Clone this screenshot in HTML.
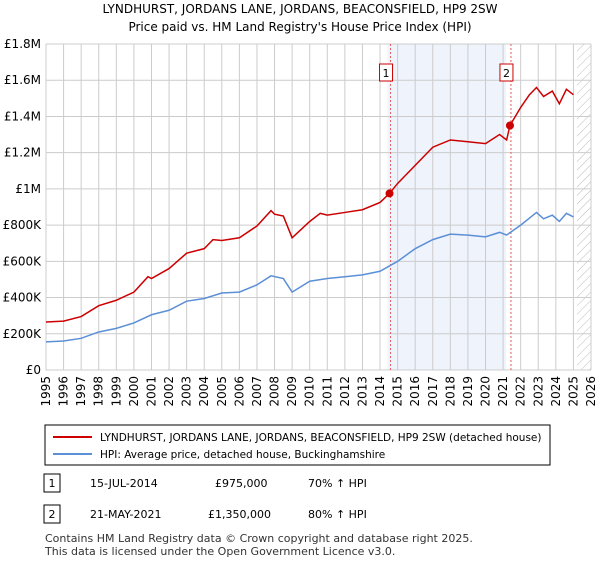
<!DOCTYPE html>
<html><head><meta charset="utf-8"><style>
body{margin:0;background:#fff;font-family:"Liberation Sans","DejaVu Sans",sans-serif;}
svg text{font-family:"DejaVu Sans","Liberation Sans",sans-serif;}
</style></head><body>
<svg id="c" width="600" height="560" xmlns="http://www.w3.org/2000/svg">
<defs><pattern id="hatch" width="6" height="6" patternUnits="userSpaceOnUse" patternTransform="rotate(45)"><line x1="0" y1="0" x2="0" y2="6" stroke="#bbb" stroke-width="1"/></pattern></defs>
<text x="300" y="13" text-anchor="middle" font-size="12">LYNDHURST, JORDANS LANE, JORDANS, BEACONSFIELD, HP9 2SW</text>
<text x="300" y="31" text-anchor="middle" font-size="12">Price paid vs. HM Land Registry's House Price Index (HPI)</text>
<g id="plot"></g>
<rect x="45" y="425" width="505" height="40" fill="#fff" stroke="#000"/>
<line x1="53" y1="437" x2="92" y2="437" stroke="#cc0000" stroke-width="2"/>
<text x="100" y="441" font-size="10.5">LYNDHURST, JORDANS LANE, JORDANS, BEACONSFIELD, HP9 2SW (detached house)</text>
<line x1="53" y1="454" x2="92" y2="454" stroke="#5b8fd6" stroke-width="2"/>
<text x="100" y="458" font-size="10.5">HPI: Average price, detached house, Buckinghamshire</text>
<rect x="44" y="474" width="16" height="18" fill="#fff" stroke="#000"/>
<text x="52" y="487" text-anchor="middle" font-size="11">1</text>
<text x="90" y="487" font-size="11">15-JUL-2014</text>
<text x="215" y="487" font-size="11">£975,000</text>
<text x="308" y="487" font-size="11">70% ↑ HPI</text>
<rect x="44" y="505" width="16" height="18" fill="#fff" stroke="#000"/>
<text x="52" y="518" text-anchor="middle" font-size="11">2</text>
<text x="90" y="518" font-size="11">21-MAY-2021</text>
<text x="208" y="518" font-size="11">£1,350,000</text>
<text x="308" y="518" font-size="11">80% ↑ HPI</text>
<text x="45" y="542" font-size="11" fill="#333">Contains HM Land Registry data © Crown copyright and database right 2025.</text>
<text x="45" y="555" font-size="11" fill="#333">This data is licensed under the Open Government Licence v3.0.</text>
</svg>
<script>
const redYears=[1995,1996,1997,1998,1999,2000,2000.8,2001,2002,2003,2004,2004.5,2005,2006,2007,2007.8,2008,2008.5,2009,2010,2010.6,2011,2012,2013,2014,2014.54,2015,2016,2017,2018,2019,2020,2020.8,2021.2,2021.39,2022,2022.5,2022.9,2023.3,2023.8,2024.2,2024.6,2025];
const redValues=[265,270,295,355,385,430,515,505,560,645,670,720,715,730,795,880,860,850,730,820,865,855,870,885,925,975,1030,1130,1230,1270,1260,1250,1300,1270,1350,1450,1520,1560,1510,1540,1470,1550,1520];
const hpiYears=[1995,1996,1997,1998,1999,2000,2001,2002,2003,2004,2005,2006,2007,2007.8,2008.5,2009,2010,2011,2012,2013,2014,2015,2016,2017,2018,2019,2020,2020.8,2021.2,2022,2022.9,2023.3,2023.8,2024.2,2024.6,2025];
const hpiValues=[155,160,175,210,230,260,305,330,380,395,425,430,470,520,505,430,490,505,515,525,545,600,670,720,750,745,735,760,745,800,870,835,855,820,865,845];
const saleYears=[2014.54,2021.39];
const saleValues=[975,1350];
const saleLabels=["1","2"];
const yTicks=[0,200,400,600,800,1000,1200,1400,1600,1800];
const yTickLabels=["£0","£200K","£400K","£600K","£800K","£1M","£1.2M","£1.4M","£1.6M","£1.8M"];
const xTicks=[1995,1996,1997,1998,1999,2000,2001,2002,2003,2004,2005,2006,2007,2008,2009,2010,2011,2012,2013,2014,2015,2016,2017,2018,2019,2020,2021,2022,2023,2024,2025,2026];

const L=46,R=591,T=44,B=370;
const x=v=>L+(v-1995)/(2026-1995)*(R-L);
const y=v=>B-v/1800*(B-T);
const g=document.getElementById('plot');
const NS='http://www.w3.org/2000/svg';
function mk(t,a){const e=document.createElementNS(NS,t);for(const k in a)e.setAttribute(k,a[k]);g.appendChild(e);return e;}
let e;
e=mk('rect',{x:x(saleYears[0])-2,y:T,width:x(saleYears[1])-x(saleYears[0])-2,height:B-T,fill:'#eef3fc'});


e=mk('rect',{x:x(2025.2),y:T,width:R-x(2025.2),height:B-T,fill:'url(#hatch)'});


yTicks.forEach((v,i)=>{
 e=mk('line',{x1:L,x2:R,y1:y(v),y2:y(v),stroke:'#ccc'});
 
 
 e=mk('text',{x:L-5,y:y(v)+4,'text-anchor':'end','font-size':12});
 e.textContent=yTickLabels[i];
 
 
});
xTicks.forEach(v=>{
 e=mk('line',{x1:x(v),x2:x(v),y1:T,y2:B,stroke:'#ccc'});
 
 
 e=mk('text',{x:0,y:0,'text-anchor':'end','font-size':12,transform:`translate(${x(v)+4},${B+6}) rotate(-90)`});
 e.textContent=v;
 
 
});
e=mk('path',{d:'M'+L+' '+T+'V'+B+'H'+R,fill:'none',stroke:'#ccc'});


saleYears.forEach((s,i)=>{
 e=mk('line',{x1:x(s)+1,x2:x(s)+1,y1:T,y2:B,stroke:'#e06060','stroke-dasharray':'2,2'});
 
 
 e=mk('rect',{x:x(s)-10,y:64,width:13,height:17,fill:'#fff',stroke:'#cc0000'});
 
 
 e=mk('text',{x:x(s)-3.5,y:77,'text-anchor':'middle','font-size':11});
 e.textContent=saleLabels[i];
 
 
});
e=mk('polyline',{points:hpiYears.map((v,i)=>x(v)+','+y(hpiValues[i])).join(' '),fill:'none',stroke:'#5b8fd6','stroke-width':1.5});


e=mk('polyline',{points:redYears.map((v,i)=>x(v)+','+y(redValues[i])).join(' '),fill:'none',stroke:'#cc0000','stroke-width':1.5});


saleYears.forEach((s,i)=>{
 e=mk('circle',{cx:x(s),cy:y(saleValues[i]),r:4,fill:'#cc0000'});
 
 
});
</script>
</body></html>
